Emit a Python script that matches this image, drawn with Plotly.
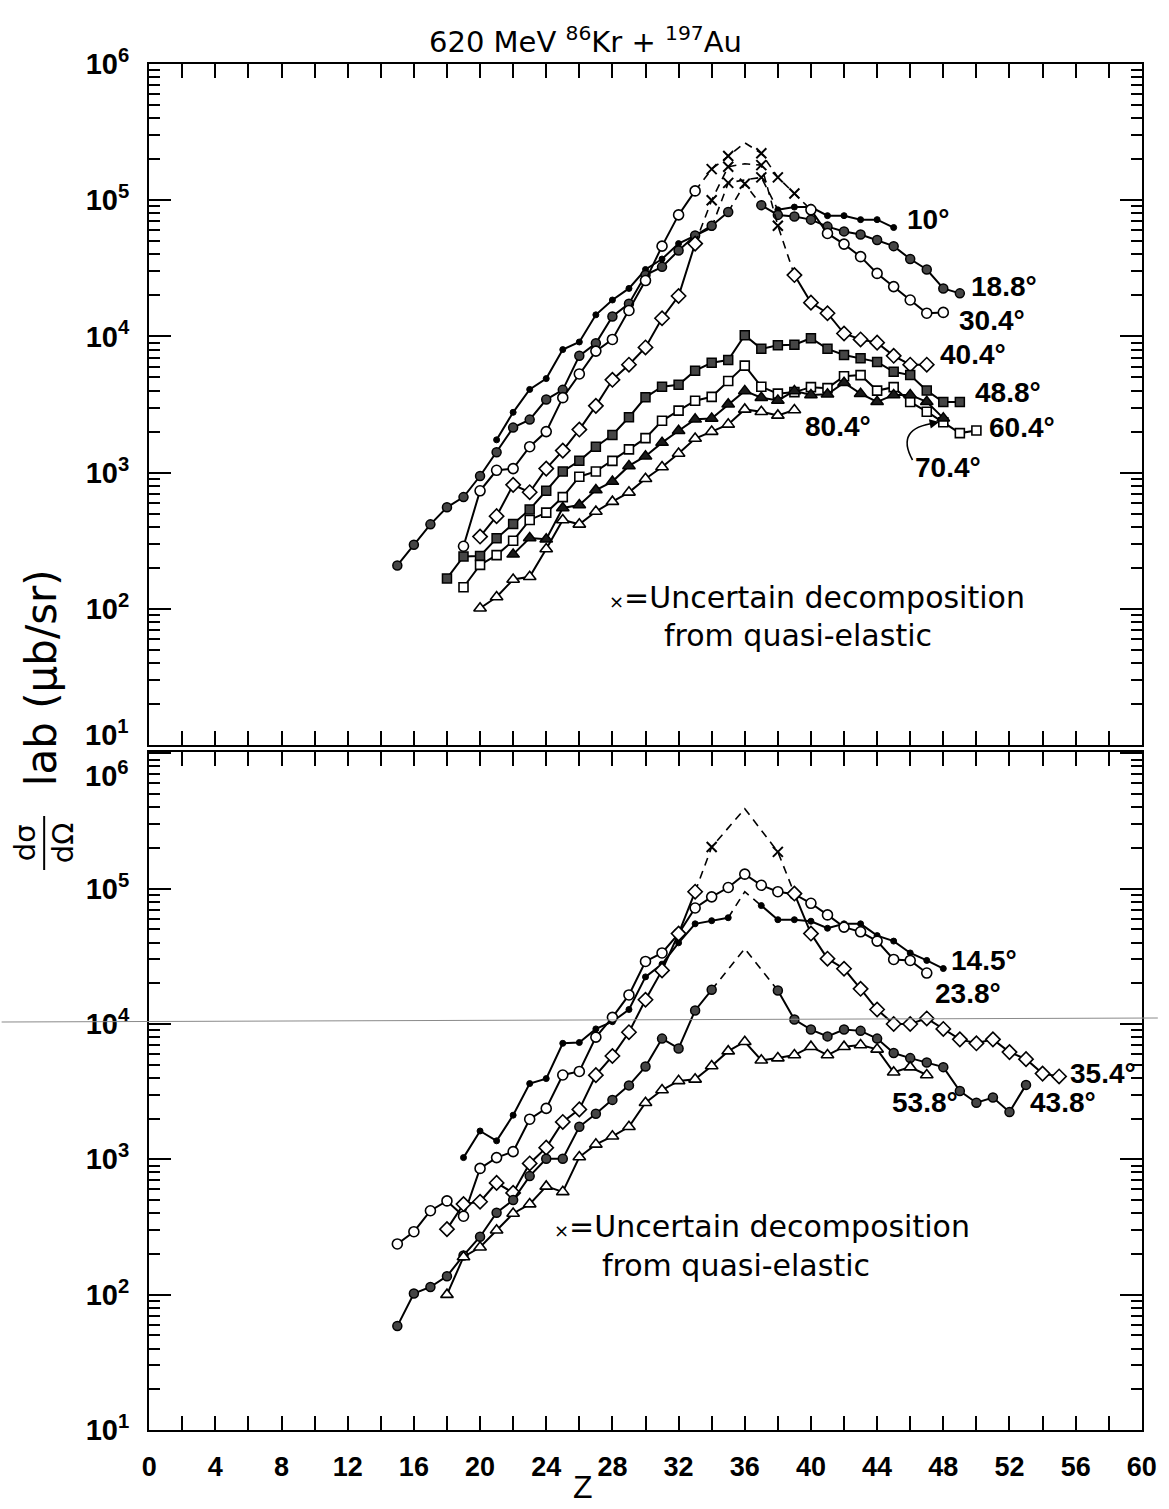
import plotly.graph_objects as go

# ------------------------------------------------------------------
# Data (dσ/dΩ in µb/sr versus Z)
# ------------------------------------------------------------------
# ---------------- top panel ----------------
Z_10 = list(range(21, 46))
V_10 = [1.74e3, 2.77e3, 4.08e3, 4.9e3, 8.0e3, 9.1e3, 1.44e4, 1.85e4, 2.25e4, 3.1e4,
        3.7e4, 4.8e4, 5.5e4, 6.3e4, 1.34e5, 1.41e5, 1.47e5, 8.5e4, 8.9e4, 8.9e4,
        7.7e4, 7.7e4, 7.2e4, 7.2e4, 6.3e4]

Z_188 = list(range(15, 50))
V_188 = [208, 295, 417, 556, 661, 944, 1.41e3, 2.14e3, 2.45e3, 3.44e3,
         4.05e3, 7.2e3, 8.9e3, 1.40e4, 1.74e4, 2.82e4, 3.24e4, 4.27e4, 5.5e4, 6.5e4,
         8.2e4, 1.32e5, 9.2e4, 7.8e4, 7.6e4, 7.2e4, 6.4e4, 5.9e4, 5.6e4, 5.1e4,
         4.6e4, 3.7e4, 3.1e4, 2.25e4, 2.07e4]

Z_304 = list(range(19, 49))
V_304 = [288, 735, 1.04e3, 1.07e3, 1.55e3, 2.0e3, 3.55e3, 5.3e3, 7.8e3, 9.5e3,
         1.55e4, 2.57e4, 4.6e4, 7.8e4, 1.17e5, 1.69e5, 2.11e5, 2.64e5, 2.21e5, 1.47e5,
         1.12e5, 8.5e4, 5.7e4, 4.76e4, 3.85e4, 2.9e4, 2.32e4, 1.85e4, 1.48e4, 1.5e4]

Z_404 = list(range(20, 48))
V_404 = [339, 479, 813, 718, 1.07e3, 1.45e3, 2.07e3, 3.09e3, 4.8e3, 6.2e3,
         8.3e3, 1.36e4, 1.98e4, 4.8e4, 1.0e5, 1.76e5, 1.85e5, 1.81e5, 6.5e4, 2.82e4,
         1.77e4, 1.48e4, 1.05e4, 9.5e3, 9.0e3, 7.2e3, 6.2e3, 6.2e3]

Z_488 = list(range(18, 50))
V_488 = [167, 242, 244, 329, 420, 537, 736, 1.02e3, 1.22e3, 1.55e3,
         1.89e3, 2.55e3, 3.57e3, 4.27e3, 4.42e3, 5.6e3, 6.4e3, 6.7e3, 1.02e4, 8.1e3,
         8.6e3, 8.7e3, 9.7e3, 8.1e3, 7.3e3, 6.9e3, 6.5e3, 5.5e3, 5.2e3, 4.0e3,
         3.3e3, 3.3e3]

Z_604 = list(range(19, 51))
V_604 = [144, 210, 248, 316, 449, 508, 661, 933, 1.02e3, 1.22e3,
         1.48e3, 1.79e3, 2.4e3, 2.85e3, 3.37e3, 3.6e3, 4.7e3, 6.1e3, 4.27e3, 3.8e3,
         3.9e3, 4.24e3, 4.17e3, 5.1e3, 5.2e3, 4.0e3, 4.24e3, 3.3e3, 2.8e3, 2.34e3,
         1.95e3, 2.04e3]

Z_704 = list(range(22, 49))
V_704 = [251, 331, 324, 550, 578, 745, 859, 1.12e3, 1.32e3, 1.66e3,
         2.03e3, 2.46e3, 2.5e3, 3.18e3, 3.98e3, 3.55e3, 3.39e3, 3.98e3, 3.72e3, 3.76e3,
         4.57e3, 3.8e3, 3.31e3, 3.72e3, 3.72e3, 3.31e3, 2.51e3]

Z_804 = list(range(20, 40))
V_804 = [101, 122, 164, 172, 275, 449, 417, 518, 612, 716,
         902, 1.10e3, 1.38e3, 1.78e3, 2.0e3, 2.26e3, 2.91e3, 2.8e3, 2.63e3, 2.88e3]

# ---------------- bottom panel ----------------
Z_145 = list(range(19, 49))
V_145 = [1.03e3, 1.62e3, 1.37e3, 2.12e3, 3.63e3, 3.95e3, 7.2e3, 7.3e3, 9.2e3, 1.04e4,
         1.28e4, 2.23e4, 2.77e4, 3.98e4, 5.5e4, 5.8e4, 6.1e4, 9.5e4, 7.5e4, 5.9e4,
         5.9e4, 5.75e4, 5.1e4, 5.5e4, 5.5e4, 4.5e4, 4.1e4, 3.35e4, 2.95e4, 2.57e4]

Z_238 = list(range(15, 48))
V_238 = [237, 292, 417, 493, 380, 857, 1.03e3, 1.14e3, 1.98e3, 2.38e3,
         4.2e3, 4.46e3, 8.0e3, 1.12e4, 1.64e4, 2.9e4, 3.35e4, 4.66e4, 7.2e4, 8.7e4,
         1.02e5, 1.28e5, 1.06e5, 9.5e4, 9.1e4, 7.8e4, 6.4e4, 5.2e4, 4.8e4, 4.1e4,
         3.0e4, 2.95e4, 2.38e4]

Z_354 = list(range(18, 35)) + [36, 38] + list(range(39, 56))
V_354 = [305, 467, 486, 670, 565, 933, 1.22e3, 1.89e3, 2.34e3, 4.19e3,
         5.8e3, 8.7e3, 1.51e4, 2.49e4, 4.66e4, 9.5e4, 2.03e5, 3.9e5, 1.87e5,
         9.2e4, 4.66e4, 3.04e4, 2.56e4, 1.82e4, 1.28e4, 1.0e4, 1.0e4, 1.1e4, 9.2e3,
         7.7e3, 7.2e3, 7.7e3, 6.2e3, 5.5e3, 4.3e3, 4.1e3]

Z_438 = list(range(15, 35)) + [36] + list(range(38, 54))
V_438 = [58.6, 102, 114, 137, 195, 268, 403, 501, 752, 1.01e3,
         1.01e3, 1.74e3, 2.17e3, 2.75e3, 3.52e3, 4.85e3, 7.8e3, 6.6e3, 1.26e4, 1.79e4,
         3.6e4,
         1.77e4, 1.08e4, 9.1e3, 8.1e3, 9.1e3, 8.9e3, 7.8e3, 6.1e3, 5.6e3, 5.2e3,
         4.8e3, 3.2e3, 2.62e3, 2.86e3, 2.24e3, 3.55e3]

Z_538 = list(range(18, 48))
V_538 = [100, 190, 224, 299, 398, 467, 631, 575, 1.04e3, 1.29e3,
         1.48e3, 1.74e3, 2.62e3, 3.25e3, 3.8e3, 3.9e3, 4.9e3, 6.3e3, 7.4e3, 5.4e3,
         5.6e3, 5.9e3, 6.8e3, 5.9e3, 6.8e3, 7.0e3, 6.5e3, 4.4e3, 4.8e3, 4.2e3]

# dashed (uncertain decomposition) ranges, × positions, unmarked apex points
TOP_SERIES = [
    # name,  Z,     V,     marker, dashed range, × at, no marker at
    ("10°",   Z_10,  V_10,  "dot",   (34, 38), [35, 37], [36]),
    ("18.8°", Z_188, V_188, "hcirc", (35, 37), [36], []),
    ("30.4°", Z_304, V_304, "ocirc", (33, 40), [34, 35, 37, 38, 39], [36]),
    ("40.4°", Z_404, V_404, "odiam", (33, 39), [34, 35, 37, 38], [36]),
    ("48.8°", Z_488, V_488, "hsq",   None, [], []),
    ("60.4°", Z_604, V_604, "osq",   None, [], []),
    ("70.4°", Z_704, V_704, "ftri",  None, [], []),
    ("80.4°", Z_804, V_804, "otri",  None, [], []),
]
BOTTOM_SERIES = [
    ("14.5°", Z_145, V_145, "dot",   (35, 37), [], [36]),
    ("23.8°", Z_238, V_238, "ocirc", None, [], []),
    ("35.4°", Z_354, V_354, "odiam", (33, 39), [34, 38], [36]),
    ("43.8°", Z_438, V_438, "hcirc", (34, 38), [], [36]),
    ("53.8°", Z_538, V_538, "otri",  None, [], []),
]

X_MAJOR = list(range(0, 61, 4))
X_LABELS = [str(v) for v in X_MAJOR]
X_MINOR = list(range(2, 60, 4))
Y_TICKS = [1e1, 1e2, 1e3, 1e4, 1e5, 1e6]
Y_LABELS = ["10<sup>1</sup>", "10<sup>2</sup>", "10<sup>3</sup>", "10<sup>4</sup>",
            "10<sup>5</sup>", "10<sup>6</sup>"]
Y_MINOR = [m * 10 ** e for e in range(1, 6) for m in range(2, 10)]

# ------------------------------------------------------------------
MARKERS = {
    "dot":   dict(symbol="circle", size=6, color="black", line=dict(color="black", width=1)),
    "hcirc": dict(symbol="circle", size=9, color="#454545", line=dict(color="black", width=1.5)),
    "ocirc": dict(symbol="circle", size=10, color="white", line=dict(color="black", width=1.6)),
    "odiam": dict(symbol="diamond", size=11, color="white", line=dict(color="black", width=1.6)),
    "hsq":   dict(symbol="square", size=9, color="#454545", line=dict(color="black", width=1.5)),
    "osq":   dict(symbol="square", size=9, color="white", line=dict(color="black", width=1.6)),
    "ftri":  dict(symbol="triangle-up", size=11, color="#1a1a1a", line=dict(color="black", width=1.5)),
    "otri":  dict(symbol="triangle-up", size=11, color="white", line=dict(color="black", width=1.6)),
}
XMARK = dict(symbol="x-thin", size=10, color="black", line=dict(color="black", width=2))

fig = go.Figure()


def add_series(zs, vs, mk, dashed, xmarks, nomark, xa, ya):
    solid_x, solid_y, dash_x, dash_y = [], [], [], []
    if dashed is None:
        solid_x, solid_y = list(zs), list(vs)
    else:
        z0, z1 = dashed
        left = [(z, v) for z, v in zip(zs, vs) if z <= z0]
        right = [(z, v) for z, v in zip(zs, vs) if z >= z1]
        mid = [(z, v) for z, v in zip(zs, vs) if z0 <= z <= z1]
        for seg in (left, right):
            if seg:
                solid_x += [p[0] for p in seg] + [None]
                solid_y += [p[1] for p in seg] + [None]
        dash_x = [p[0] for p in mid]
        dash_y = [p[1] for p in mid]
    fig.add_trace(go.Scatter(x=solid_x, y=solid_y, mode="lines", xaxis=xa, yaxis=ya,
                             line=dict(color="black", width=2), connectgaps=False,
                             showlegend=False, hoverinfo="skip"))
    if dash_x:
        fig.add_trace(go.Scatter(x=dash_x, y=dash_y, mode="lines", xaxis=xa, yaxis=ya,
                                 line=dict(color="black", width=1.6, dash="8px,6px"),
                                 showlegend=False, hoverinfo="skip"))
    in_dash = (lambda z: dashed is not None and dashed[0] < z < dashed[1])
    mx = [z for z in zs if z not in xmarks and z not in nomark and not in_dash(z)]
    my = [v for z, v in zip(zs, vs) if z in mx]
    fig.add_trace(go.Scatter(x=mx, y=my, mode="markers", xaxis=xa, yaxis=ya,
                             marker=MARKERS[mk], showlegend=False, hoverinfo="skip"))
    if xmarks:
        xx = [z for z in zs if z in xmarks]
        xy = [v for z, v in zip(zs, vs) if z in xmarks]
        fig.add_trace(go.Scatter(x=xx, y=xy, mode="markers", xaxis=xa, yaxis=ya,
                                 marker=XMARK, showlegend=False, hoverinfo="skip"))


for name, zs, vs, mk, dashed, xm, nm in TOP_SERIES:
    add_series(zs, vs, mk, dashed, xm, nm, "x2", "y2")
for name, zs, vs, mk, dashed, xm, nm in BOTTOM_SERIES:
    add_series(zs, vs, mk, dashed, xm, nm, "x", "y")

# ------------------------------------------------------------------
L, R, T, B = 149, 1153, 64, 1430
W, H = 1169, 1509


def px(x):
    return (x - L) / (R - L)


def py(y):
    return (B - y) / (B - T)


NARROW = "Liberation Sans, Arial, sans-serif"
PLAIN = "DejaVu Sans, Noto Sans, sans-serif"
TICKFONT = dict(family=NARROW, size=27, color="black", weight="bold")

xaxis_common = dict(range=[-0.01, 60.01], tickmode="array", tickvals=X_MAJOR, ticktext=X_LABELS,
                    ticks="inside", ticklen=14, tickwidth=2, tickcolor="black",
                    minor=dict(tickvals=X_MINOR, ticks="inside", ticklen=14, tickwidth=2,
                               tickcolor="black", showgrid=False),
                    showline=True, linecolor="black", linewidth=2, mirror="ticks",
                    showgrid=False, zeroline=False, tickfont=TICKFONT,
                    ticklabeloverflow="allow")
yaxis_common = dict(type="log", tickmode="array", tickvals=Y_TICKS,
                    ticks="inside", ticklen=22, tickwidth=2, tickcolor="black",
                    showline=True, linecolor="black", linewidth=2, mirror="ticks",
                    showgrid=False, zeroline=False, ticklabelstandoff=12,
                    minor=dict(tickvals=Y_MINOR, ticks="inside", ticklen=11, tickwidth=1.6,
                               tickcolor="black", showgrid=False),
                    tickfont=dict(family=NARROW, size=29, color="black", weight="bold"))

top_lo = py(745)
bot_hi = py(752)

fig.update_layout(
    width=W, height=H, autosize=False,
    margin=dict(l=L, r=W - R, t=T, b=H - B),
    paper_bgcolor="white", plot_bgcolor="white",
    showlegend=False,
    xaxis=dict(**xaxis_common, anchor="y", domain=[0, 1], ticklabelstandoff=12),
    xaxis2=dict(**xaxis_common, anchor="y2", domain=[0, 1], showticklabels=False),
    # bottom panel: its 10^6 label is drawn separately (sits a bit lower)
    yaxis=dict(**yaxis_common, anchor="x", domain=[0, bot_hi], range=[1, 6.01],
               ticktext=Y_LABELS[:-1] + [" "]),
    # top panel: its 10^1 label is drawn separately (sits a bit higher)
    yaxis2=dict(**yaxis_common, anchor="x2", domain=[top_lo, 1], range=[1, 6],
                ticktext=[" "] + Y_LABELS[1:]),
)

ann = []


def text_at(x, y, text, font, xanchor="center", yanchor="middle", angle=0):
    ann.append(dict(x=px(x), y=py(y), xref="paper", yref="paper", showarrow=False,
                    xanchor=xanchor, yanchor=yanchor, text=text, textangle=angle,
                    font=font))


# title
text_at(590, 40, "620 MeV <sup>86</sup>Kr + <sup>197</sup>Au",
        dict(family=PLAIN, size=29, color="black"))
# x-axis title
text_at(588, 1487, "Z", dict(family=NARROW, size=32, color="black"))
# y-axis title: dσ/dΩ lab (µb/sr)
text_at(43, 843, "dσ<br>dΩ", dict(family=PLAIN, size=29, color="black"), angle=-90)
text_at(40, 678, "lab (μb/sr)", dict(family=PLAIN, size=42, color="black"), angle=-90)
# separate decade labels at the panel junction
text_at(131, 733, "10<sup>1</sup>", dict(family=NARROW, size=29, color="black", weight="bold"),
        xanchor="right")
text_at(131, 774, "10<sup>6</sup>", dict(family=NARROW, size=29, color="black", weight="bold"),
        xanchor="right")

# note texts
for (xl1, yc1, xc2, yc2) in [(612, 597, 805, 636), (556, 1226, 742, 1265)]:
    text_at(xl1, yc1, "<span style='font-size:18px'>×</span>=Uncertain decomposition",
            dict(family=PLAIN, size=30, color="black"), xanchor="left")
    text_at(xc2, yc2, "from quasi-elastic", dict(family=PLAIN, size=30, color="black"))

# angle labels (left edge x, centre y)
LABELS = [("10°", 913, 220), ("18.8°", 978, 286), ("30.4°", 966, 320),
          ("40.4°", 947, 354), ("48.8°", 982, 392), ("60.4°", 996, 428),
          ("80.4°", 810, 426), ("70.4°", 921, 467),
          ("14.5°", 958, 960), ("23.8°", 942, 993), ("35.4°", 1078, 1073),
          ("53.8°", 898, 1102), ("43.8°", 1038, 1102)]
for txt, lx, ly in LABELS:
    text_at(lx, ly, txt, dict(family=NARROW, size=28, color="black", weight="bold"),
            xanchor="left")

# arrowhead for 70.4°
ann.append(dict(x=px(948), y=py(422), xref="paper", yref="paper", text="",
                showarrow=True, arrowhead=2, arrowsize=1.2, arrowwidth=1.6,
                arrowcolor="black", ax=-10, ay=2))
fig.update_layout(annotations=ann)

shapes = []
# fraction bar of dσ/dΩ
shapes.append(dict(type="line", xref="paper", yref="paper",
                   x0=px(43), x1=px(43), y0=py(870), y1=py(816),
                   line=dict(color="black", width=2)))
# curved arrow shaft for 70.4°
shapes.append(dict(type="path", xref="paper", yref="paper",
                   path=f"M {px(921)},{py(460)} Q {px(903)},{py(428)} {px(944)},{py(423)}",
                   line=dict(color="black", width=1.6)))
# faint horizontal scan line across the page
shapes.append(dict(type="line", xref="paper", yref="paper",
                   x0=px(0), x1=px(1169), y0=py(1022), y1=py(1018),
                   line=dict(color="#8a8a8a", width=1)))
fig.update_layout(shapes=shapes)

fig.write_html("out.html", config={"responsive": False})
